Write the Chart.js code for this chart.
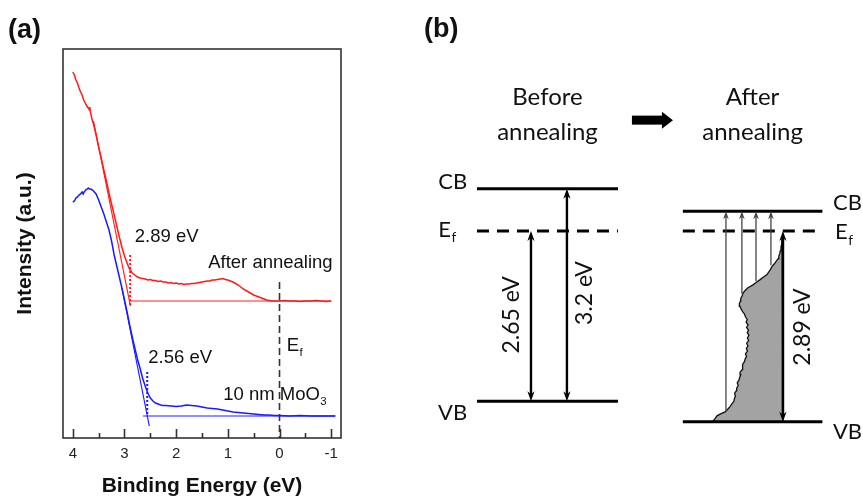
<!DOCTYPE html>
<html><head><meta charset="utf-8">
<script src="https://cdn.jsdelivr.net/npm/chart.js@4.4.1/dist/chart.umd.min.js"></script>
<style>
html,body{margin:0;padding:0;background:#fff;}
#wrap{position:relative;width:863px;height:498px;overflow:hidden;background:#fff;}
#c1{position:absolute;left:0;top:0;width:400px;height:498px;}
#c2{position:absolute;left:400px;top:0;width:463px;height:498px;}
</style></head><body>
<div id="wrap"><canvas id="c1" width="400" height="498"></canvas><canvas id="c2" width="463" height="498"></canvas></div>
<script>
// ---------- Panel (a) data : UPS valence-band spectra ----------
const energyTicks = [4, 3, 2, 1, 0, -1];
const energyMinorTicks = [3.5, 2.5, 1.5, 0.5, -0.5];

const annealedEnergy = [4.00,3.97,3.94,3.91,3.88,3.85,3.82,3.79,3.76,3.73,3.70,3.68,3.67,3.66,3.63,3.60,3.55,3.50,3.45,3.40,3.35,3.30,3.25,3.20,3.15,3.10,3.05,3.00,2.95,2.92,2.89,2.85,2.80,2.75,2.70,2.65,2.60,2.55,2.50,2.45,2.40,2.35,2.30,2.25,2.20,2.15,2.10,2.05,2.00,1.95,1.90,1.85,1.80,1.75,1.70,1.65,1.60,1.55,1.50,1.45,1.40,1.35,1.30,1.25,1.20,1.15,1.10,1.05,1.00,0.95,0.90,0.85,0.80,0.75,0.70,0.65,0.60,0.55,0.50,0.45,0.40,0.35,0.30,0.25,0.20,0.15,0.10,0.00,-0.10,-0.20,-0.30,-0.40,-0.50,-0.60,-0.70,-0.80,-0.90,-1.00];
const annealedIntensity = [366,363,358,355,350,346,343,338,335,332,330,328,331,326,319,314,303,291,280,268,257,245,234,223,212,201,191,182,175,171,168,165,163,161,160,159.5,159,158,158.5,157.5,157.5,156.5,157,156,156,155,155.5,154.5,155,154,154.5,153.5,154,154,154.5,154.5,155,155.5,156,156.5,157,157,158,158,158.5,159,159.5,158.5,158,157,156,154.5,153,151,149,147.5,146,144.5,143,142,141,140,139,138,137.5,137,137,137,137.5,137,137,136.5,137,137,137.5,137,136.5,137];

const asDepEnergy = [4.00,3.97,3.94,3.91,3.88,3.85,3.82,3.80,3.78,3.75,3.72,3.70,3.68,3.65,3.62,3.60,3.55,3.50,3.45,3.40,3.35,3.30,3.25,3.20,3.15,3.10,3.05,3.00,2.95,2.90,2.85,2.80,2.75,2.70,2.65,2.60,2.55,2.50,2.45,2.40,2.35,2.30,2.25,2.20,2.10,2.00,1.90,1.80,1.70,1.60,1.50,1.40,1.30,1.20,1.10,1.00,0.90,0.80,0.70,0.60,0.50,0.40,0.30,0.20,0.10,0.00,-0.20,-0.40,-0.60,-0.80,-1.00,-1.08];
const asDepIntensity = [236,237,240,241,243,244,246,244,246,248,249,250,249,249,248,247,244,238,231,224,216,208,197,183,172,161,150,138,126,113,101,90,79,70,60,52,45,40,37,35,34,33,32.5,32.5,32,31.5,32,33,32.5,32,31,30,29.5,29,28,27,26,25.5,25,24.5,24,23.5,23,23,22.5,22.5,22,22.5,22,22,22,22];

// linear-extrapolation helpers
const annealedTangentE = [3.60, 2.885];
const annealedTangentI = [317, 132];
const annealedBaselineE = [2.89, -1.00];
const annealedBaselineI = [137, 137];
const annealedOnsetE = [2.89, 2.89];
const annealedOnsetI = [183, 133];

const asDepTangentE = [3.05, 2.52];
const asDepTangentI = [150, 12];
const asDepBaselineE = [2.64, -1.08];
const asDepBaselineI = [22, 22];
const asDepOnsetE = [2.56, 2.56];
const asDepOnsetI = [66, 22];

const fermiE = [0, 0];
const fermiI = [156, 0];

// ---------- Panel (b) data : band diagram (energies in eV relative to Ef) ----------
const levelNames = ['CB', 'Ef', 'VB'];
const beforeLevels = [0.64, 0, -2.58];
const afterLevels = [0.30, 0, -2.89];
const beforeSpan = [0, 1];
const afterSpan = [1.46, 2.45];
const gapLabels = ['2.65 eV', '3.2 eV', '2.89 eV'];
const beforeGapX = [0.383, 0.638];
const afterGapX = 2.17;
const transitionX = [1.766, 1.879, 1.979, 2.085];
const transitionFromE = [-2.72, -0.95, -0.76, -0.52];
const dosE = [-2.874,-2.84,-2.80,-2.77,-2.74,-2.70,-2.66,-2.62,-2.58,-2.54,-2.50,-2.46,-2.42,-2.38,-2.34,-2.30,-2.26,-2.22,-2.18,-2.14,-2.10,-2.06,-2.02,-1.98,-1.94,-1.90,-1.86,-1.82,-1.78,-1.74,-1.70,-1.66,-1.62,-1.58,-1.54,-1.50,-1.46,-1.42,-1.38,-1.34,-1.30,-1.26,-1.22,-1.18,-1.14,-1.10,-1.06,-1.02,-0.98,-0.94,-0.90,-0.86,-0.82,-0.78,-0.74,-0.70,-0.66,-0.62,-0.58,-0.54,-0.50,-0.46,-0.42,-0.38,-0.34,-0.30,-0.26,-0.22,-0.18,-0.14,-0.10,-0.06,-0.03];
const dosX = [1.676,1.690,1.702,1.728,1.760,1.778,1.795,1.808,1.822,1.826,1.833,1.827,1.840,1.842,1.853,1.846,1.858,1.863,1.871,1.866,1.881,1.886,1.882,1.897,1.902,1.912,1.904,1.919,1.911,1.922,1.913,1.927,1.918,1.929,1.917,1.926,1.912,1.923,1.909,1.917,1.904,1.898,1.884,1.873,1.865,1.861,1.869,1.871,1.881,1.887,1.902,1.922,1.955,1.980,2.006,2.030,2.057,2.070,2.082,2.092,2.108,2.122,2.136,2.141,2.148,2.151,2.156,2.158,2.160,2.163,2.165,2.168,2.170];
const stepArrowX = [1.099, 1.39];
const stepArrowE = [1.68, 1.68];

// ---------- helpers ----------
const FA = '"Liberation Sans", Arial, sans-serif';
const FB = 'Lato, "Open Sans", sans-serif';
const zip = (xs, ys) => xs.map((x, i) => ({x: x, y: ys[i]}));

function subText(ctx, main, sub, x, y, size, align, font) {
  ctx.font = size + 'px ' + font; const w1 = ctx.measureText(main).width;
  ctx.font = (size * 0.62) + 'px ' + font; const w2 = ctx.measureText(sub).width;
  let x0 = align === 'right' ? x - w1 - w2 : align === 'center' ? x - (w1 + w2) / 2 : x;
  ctx.textAlign = 'left'; ctx.textBaseline = 'middle';
  ctx.font = size + 'px ' + font; ctx.fillText(main, x0, y);
  ctx.font = (size * 0.62) + 'px ' + font; ctx.fillText(sub, x0 + w1 + 0.5, y + size * 0.36);
}

// ---------- Panel (a) ----------
const line = (data, color, width, dash) => ({data: data, showLine: true, borderColor: color, borderWidth: width, borderDash: dash || [], pointRadius: 0, tension: 0, fill: false});

const panelA = {
  id: 'panelA',
  afterDraw(chart) {
    const {ctx, chartArea: a, scales: {x, y}} = chart;
    ctx.save();
    ctx.strokeStyle = '#333'; ctx.lineWidth = 1.6;
    ctx.strokeRect(a.left, a.top, a.right - a.left, a.bottom - a.top);
    ctx.lineWidth = 1.6;
    energyTicks.forEach(v => { const px = Math.round(x.getPixelForValue(v)) + 0.5; ctx.beginPath(); ctx.moveTo(px, a.bottom); ctx.lineTo(px, a.bottom - 9); ctx.stroke(); });
    energyMinorTicks.forEach(v => { const px = Math.round(x.getPixelForValue(v)) + 0.5; ctx.beginPath(); ctx.moveTo(px, a.bottom); ctx.lineTo(px, a.bottom - 5); ctx.stroke(); });
    ctx.fillStyle = '#111';
    ctx.textAlign = 'left'; ctx.textBaseline = 'middle';
    ctx.font = '18.5px ' + FA;
    ctx.fillText('2.89 eV', x.getPixelForValue(2.80), y.getPixelForValue(201));
    ctx.fillText('After annealing', x.getPixelForValue(1.38), y.getPixelForValue(175));
    ctx.fillText('2.56 eV', x.getPixelForValue(2.54), y.getPixelForValue(80));
    subText(ctx, 'E', 'f', x.getPixelForValue(-0.14), y.getPixelForValue(92), 18.5, 'left', FA);
    subText(ctx, '10 nm MoO', '3', x.getPixelForValue(1.09), y.getPixelForValue(43), 18.5, 'left', FA);
    ctx.font = 'bold 27px ' + FA; ctx.textAlign = 'left';
    ctx.fillText('(a)', 8, 31);
    ctx.restore();
  }
};

new Chart(document.getElementById('c1'), {
  type: 'scatter',
  data: {datasets: [
    line(zip(annealedEnergy, annealedIntensity), '#ff1a1a', 1.5),
    line(zip(annealedTangentE, annealedTangentI), '#ff2020', 1.2),
    line(zip(annealedBaselineE, annealedBaselineI), '#ff2020', 1.2),
    line(zip(annealedOnsetE, annealedOnsetI), '#ff1a1a', 2, [2, 2]),
    line(zip(asDepEnergy, asDepIntensity), '#1a1aff', 1.5),
    line(zip(asDepTangentE, asDepTangentI), '#2020ff', 1.2),
    line(zip(asDepBaselineE, asDepBaselineI), '#2020ff', 1.2),
    line(zip(asDepOnsetE, asDepOnsetI), '#1a1aff', 2, [2, 2]),
    line(zip(fermiE, fermiI), '#333', 1.6, [7, 4])
  ]},
  options: {
    responsive: false, animation: false, devicePixelRatio: 1,
    layout: {padding: {top: 49, right: 59, left: 0, bottom: 0}},
    plugins: {legend: {display: false}, tooltip: {enabled: false}},
    scales: {
      x: {type: 'linear', reverse: true, min: -1.19, max: 4.19,
        grid: {display: false, drawTicks: false}, border: {display: false},
        afterBuildTicks: s => { s.ticks = energyTicks.map(v => ({value: v})); },
        afterFit: s => { s.height = 60; },
        ticks: {padding: 7, autoSkip: false, maxRotation: 0, color: '#222', font: {family: FA, size: 15}, callback: v => String(v)},
        title: {display: true, text: 'Binding Energy (eV)', color: '#111', font: {family: FA, size: 21, weight: 'bold', lineHeight: 1}, padding: {top: 0, bottom: 1}}
      },
      y: {type: 'linear', min: 0, max: 389,
        grid: {display: false, drawTicks: false}, border: {display: false},
        ticks: {display: false},
        afterFit: s => { s.width = 63; },
        title: {display: true, text: 'Intensity (a.u.)', color: '#111', font: {family: FA, size: 21, weight: 'bold', lineHeight: 1}, padding: {top: 15, bottom: 0}}
      }
    }
  },
  plugins: [panelA]
});

// ---------- Panel (b) ----------
const lvl = (span, E, dash) => ({data: [{x: span[0], y: E}, {x: span[1], y: E}], showLine: true, borderColor: '#000', borderWidth: 3, borderDash: dash || [], pointRadius: 0, fill: false});
const arrowDs = (pts, opt) => ({data: pts, showLine: false, pointRadius: 0, arrow: opt});

const datasetsB = [];
levelNames.forEach((n, i) => {
  datasetsB.push(lvl(beforeSpan, beforeLevels[i], n === 'Ef' ? [12, 8] : null));
  datasetsB.push(lvl(afterSpan, afterLevels[i], n === 'Ef' ? [12, 8] : null));
});
// density of states (gray region)
const dosPts = zip(dosX, dosE).concat([{x: afterGapX, y: dosE[dosE.length - 1]}, {x: afterGapX, y: afterLevels[2]}, {x: dosX[0], y: afterLevels[2]}, {x: dosX[0], y: dosE[0]}]);
datasetsB.push({data: dosPts, showLine: true, borderColor: '#111', borderWidth: 1.3, backgroundColor: '#a3a3a3', fill: 'shape', pointRadius: 0, tension: 0});
// arrows
datasetsB.push(arrowDs([{x: beforeGapX[0], y: beforeLevels[1]}, {x: beforeGapX[0], y: beforeLevels[2]}], {w: 2.4, len: 10, half: 3.6, start: true, end: true, color: '#000'}));
datasetsB.push(arrowDs([{x: beforeGapX[1], y: beforeLevels[0]}, {x: beforeGapX[1], y: beforeLevels[2]}], {w: 2.4, len: 10, half: 3.6, start: true, end: true, color: '#000'}));
transitionX.forEach((tx, i) => {
  datasetsB.push(arrowDs([{x: tx, y: transitionFromE[i]}, {x: tx, y: afterLevels[0]}], {w: 1.3, len: 8, half: 2.8, start: false, end: true, color: '#444'}));
});
datasetsB.push(arrowDs([{x: afterGapX, y: afterLevels[1]}, {x: afterGapX, y: afterLevels[2]}], {w: 2.6, len: 10, half: 3.6, start: true, end: true, color: '#000'}));
datasetsB.push(arrowDs(zip(stepArrowX, stepArrowE), {block: true, w: 9, len: 11, half: 8.5, color: '#000'}));

function drawArrow(ctx, x1, y1, x2, y2, o) {
  const dx = x2 - x1, dy = y2 - y1, L = Math.hypot(dx, dy), ux = dx / L, uy = dy / L;
  ctx.fillStyle = o.color; ctx.strokeStyle = o.color; ctx.lineCap = 'butt';
  if (o.block) {
    const bx = x2 - ux * o.len, by = y2 - uy * o.len;
    ctx.lineWidth = o.w; ctx.beginPath(); ctx.moveTo(x1, y1); ctx.lineTo(bx + ux, by + uy); ctx.stroke();
    ctx.beginPath(); ctx.moveTo(x2, y2); ctx.lineTo(bx - uy * o.half, by + ux * o.half); ctx.lineTo(bx + uy * o.half, by - ux * o.half); ctx.closePath(); ctx.fill();
    return;
  }
  let sx = x1, sy = y1, ex = x2, ey = y2;
  if (o.start) { sx += ux * o.len * 0.7; sy += uy * o.len * 0.7; }
  if (o.end) { ex -= ux * o.len * 0.7; ey -= uy * o.len * 0.7; }
  ctx.lineWidth = o.w; ctx.beginPath(); ctx.moveTo(sx, sy); ctx.lineTo(ex, ey); ctx.stroke();
  const head = (tx, ty, vx, vy) => {
    ctx.beginPath(); ctx.moveTo(tx, ty);
    ctx.lineTo(tx - vx * o.len - vy * o.half, ty - vy * o.len + vx * o.half);
    ctx.lineTo(tx - vx * o.len * 0.7, ty - vy * o.len * 0.7);
    ctx.lineTo(tx - vx * o.len + vy * o.half, ty - vy * o.len - vx * o.half);
    ctx.closePath(); ctx.fill();
  };
  if (o.end) head(x2, y2, ux, uy);
  if (o.start) head(x1, y1, -ux, -uy);
}

const panelB = {
  id: 'panelB',
  afterDatasetsDraw(chart) {
    const {ctx, scales: {x, y}} = chart;
    ctx.save();
    chart.data.datasets.forEach((ds, i) => {
      if (!ds.arrow) return;
      const m = chart.getDatasetMeta(i).data;
      drawArrow(ctx, m[0].x, m[0].y, m[m.length - 1].x, m[m.length - 1].y, ds.arrow);
    });
    ctx.fillStyle = '#111';
    const X = v => x.getPixelForValue(v), Y = v => y.getPixelForValue(v);
    ctx.font = '24px ' + FB; ctx.textAlign = 'center'; ctx.textBaseline = 'middle';
    const bc = (beforeSpan[0] + beforeSpan[1]) / 2, ac = (afterSpan[0] + afterSpan[1]) / 2;
    ctx.fillText('Before', X(bc), Y(2.02)); ctx.fillText('annealing', X(bc), Y(1.49));
    ctx.fillText('After', X(ac), Y(2.02)); ctx.fillText('annealing', X(ac), Y(1.49));
    // level labels
    ctx.font = '22px ' + FB;
    ctx.textAlign = 'right';
    ctx.fillText(levelNames[0], X(-0.07), Y(beforeLevels[0] + 0.1));
    ctx.fillText(levelNames[2], X(-0.07), Y(beforeLevels[2] - 0.17));
    subText(ctx, 'E', 'f', X(-0.275), Y(beforeLevels[1] + 0.02), 22, 'left', FB);
    ctx.font = '22px ' + FB; ctx.textAlign = 'left';
    ctx.fillText(levelNames[0], X(2.525), Y(afterLevels[0] + 0.12));
    ctx.fillText(levelNames[2], X(2.525), Y(afterLevels[2] - 0.16));
    subText(ctx, 'E', 'f', X(2.54), Y(afterLevels[1] - 0.02), 22, 'left', FB);
    // rotated gap labels
    const rot = (t, px, py) => { ctx.save(); ctx.translate(px, py); ctx.rotate(-Math.PI / 2); ctx.font = '23px ' + FB; ctx.textAlign = 'center'; ctx.textBaseline = 'middle'; ctx.fillText(t, 0, 0); ctx.restore(); };
    rot(gapLabels[0], X(0.248), Y(-1.27));
    rot(gapLabels[1], X(0.766), Y(-0.94));
    rot(gapLabels[2], X(2.312), Y(-1.455));
    ctx.font = 'bold 27px ' + FA; ctx.textAlign = 'left'; ctx.textBaseline = 'middle';
    ctx.fillText('(b)', 24, 30);
    ctx.restore();
  }
};

new Chart(document.getElementById('c2'), {
  type: 'scatter',
  data: {datasets: datasetsB},
  options: {
    responsive: false, animation: false, devicePixelRatio: 1,
    layout: {padding: 0},
    plugins: {legend: {display: false}, tooltip: {enabled: false}},
    scales: {
      x: {type: 'linear', display: false, min: -0.546, max: 2.738},
      y: {type: 'linear', display: false, min: -4.045, max: 3.5}
    }
  },
  plugins: [panelB]
});
</script>
</body></html>
